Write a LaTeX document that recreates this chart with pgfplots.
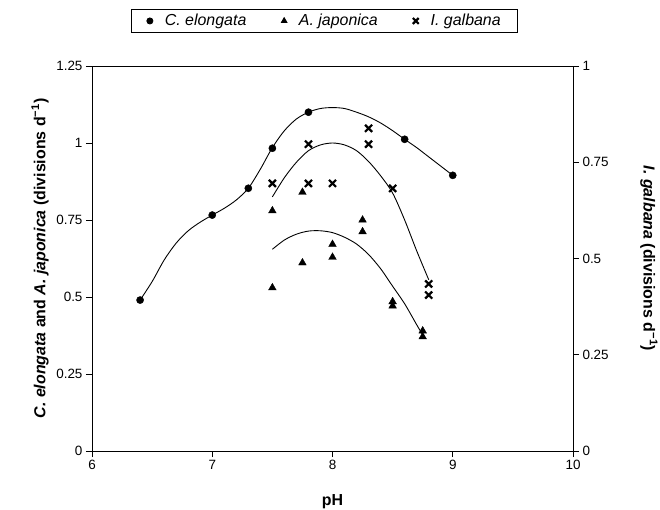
\documentclass[border=0pt]{standalone}
\usepackage{fontspec}
\setmainfont{Liberation Sans}
\usepackage{pgfplots}
\pgfplotsset{compat=1.18}

\newcommand{\labfont}{\fontsize{16}{19}\selectfont\bfseries}

\pgfplotsset{
  phaxis/.style={
    at={(92bp,59bp)}, anchor=south west,
    scale only axis, width=481bp, height=385bp,
    xmin=6, xmax=10,
    tick align=outside,
    major tick length=6bp,
    axis line style={line width=0.9pt},
    tick style={line width=0.9pt, black},
    /pgf/number format/assume math mode=true,
    tick label style={font=\fontsize{13.5}{16}\selectfont},
  },
  curve/.style={black, line width=0.9pt, smooth, tension=0.5, mark=none},
}

\begin{document}
\begin{tikzpicture}
\useasboundingbox (0,0) rectangle (660bp,510bp);

% left axis: C. elongata and A. japonica
\begin{axis}[
  phaxis,
  ymin=0, ymax=1.25,
  xtick={6,7,8,9,10},
  ytick={0,0.25,0.5,0.75,1,1.25},
  xtick pos=bottom, ytick pos=left,
  xlabel={pH},
  ylabel={\textit{C. elongata} and \textit{A. japonica} (divisions d\textsuperscript{−1})},
  every axis x label/.style={at={(axis description cs:0.5,-0.132)}, anchor=center, font=\labfont},
  every axis y label/.style={at={(axis description cs:-0.108,0.5)}, rotate=90, anchor=center, font=\labfont},
]
% C. elongata
\addplot[only marks, mark=*, mark size=3.6bp, black] coordinates {
  (6.4,0.49) (7.0,0.766) (7.3,0.853) (7.5,0.983) (7.8,1.10) (8.6,1.012) (9.0,0.895)
};
\addplot[curve] coordinates {
  (6.4,0.49) (6.5,0.55) (6.6,0.62) (6.7,0.675) (6.8,0.715) (6.9,0.743)
  (7.0,0.766) (7.1,0.788) (7.2,0.815) (7.3,0.853) (7.4,0.915) (7.5,0.985)
  (7.6,1.04) (7.7,1.078) (7.8,1.10) (7.9,1.112) (8.0,1.115) (8.1,1.112)
  (8.2,1.10) (8.3,1.085) (8.4,1.065) (8.5,1.04) (8.6,1.012) (8.7,0.985)
  (8.8,0.955) (8.9,0.925) (9.0,0.895)
};
% A. japonica
\addplot[only marks, mark=triangle*, mark size=4.4bp, black] coordinates {
  (7.5,0.78) (7.5,0.53) (7.75,0.84) (7.75,0.611) (8.0,0.671) (8.0,0.629)
  (8.25,0.75) (8.25,0.712) (8.5,0.485) (8.5,0.471) (8.75,0.39) (8.75,0.371)
};
\addplot[curve] coordinates {
  (7.5,0.655) (7.6,0.685) (7.7,0.704) (7.8,0.714) (7.9,0.715) (8.0,0.709)
  (8.1,0.694) (8.2,0.672) (8.3,0.638) (8.4,0.592) (8.5,0.535) (8.6,0.478)
  (8.7,0.41) (8.75,0.377)
};
\end{axis}

% right axis: I. galbana
\begin{axis}[
  phaxis,
  ymin=0, ymax=1,
  axis x line=none,
  axis y line*=right,
  ytick={0,0.25,0.5,0.75,1},
  ylabel={\textit{I. galbana} (divisions d\textsuperscript{−1})},
  every axis y label/.style={at={(axis description cs:1.158,0.5)}, rotate=-90, anchor=center, font=\labfont},
  legend columns=3,
  legend style={
    at={(0.484,1.117)}, anchor=center,
    draw=black, line width=0.9pt,
    font=\fontsize{16}{19}\selectfont\itshape,
    inner xsep=15bp, inner ysep=3bp,
    /tikz/every odd column/.append style={column sep=10bp},
    /tikz/every even column/.append style={column sep=33bp},
  },
  legend cell align=left,
]
\addlegendimage{only marks, mark=*, mark size=3bp, black}
\addlegendentry{C. elongata}
\addlegendimage{only marks, mark=triangle*, mark size=3.2bp, black}
\addlegendentry{A. japonica}
\addlegendimage{only marks, mark=x, mark size=4.2bp, black, line width=2.2pt}
\addlegendentry{I. galbana}
\addplot[only marks, mark=x, mark size=5bp, black, line width=2.2pt, forget plot] coordinates {
  (7.5,0.695) (7.8,0.797) (7.8,0.695) (8.0,0.695) (8.3,0.838) (8.3,0.797)
  (8.5,0.682) (8.8,0.434) (8.8,0.405)
};
\addplot[curve, forget plot] coordinates {
  (7.5,0.66) (7.6,0.71) (7.7,0.75) (7.8,0.78) (7.9,0.795) (8.0,0.80)
  (8.1,0.795) (8.2,0.78) (8.3,0.752) (8.4,0.715) (8.5,0.67) (8.6,0.60)
  (8.7,0.52) (8.8,0.445)
};
\end{axis}
\end{tikzpicture}
\end{document}
